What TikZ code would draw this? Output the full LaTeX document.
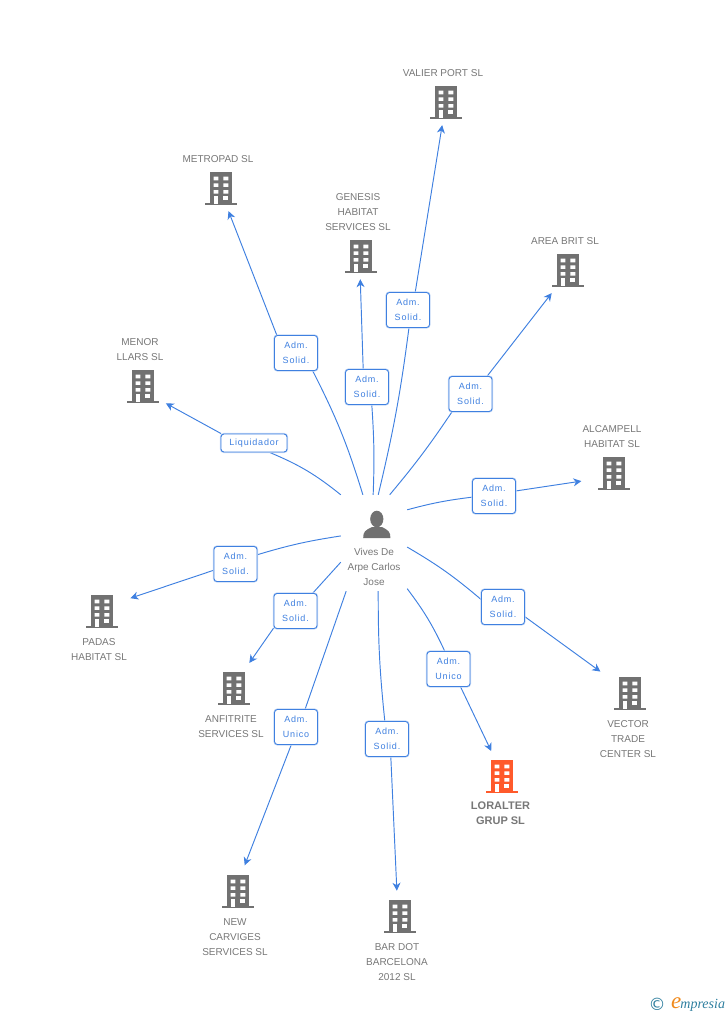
\documentclass[tikz,border=0pt]{standalone}
\usepackage{fontspec}
\setmainfont{Liberation Sans}
\newfontfamily\rolefont[LetterSpace=9]{Liberation Sans}
\newfontfamily\logofont[Ligatures=TeX]{Liberation Serif}
\newfontfamily\copyfont{DejaVu Sans}
\usetikzlibrary{arrows.meta,backgrounds,calc}
\definecolor{linkblue}{HTML}{3F80E0}
\definecolor{iconGrey}{HTML}{717171}
\definecolor{textGrey}{HTML}{777777}
\definecolor{ownOrange}{HTML}{FF5A2B}
\definecolor{logoTeal}{HTML}{2F7F9F}
\definecolor{logoOrange}{HTML}{F08A1C}
\tikzset{
	buildingbox/.style={inner sep=0pt, minimum width=32pt, minimum height=34pt, path picture={
		\begin{scope}[shift={(path picture bounding box.center)}]
			\fill[#1] (-11, -17) rectangle (11, 14.5);
			\fill[#1] (-16, 14.2) rectangle (16, 16.4);
			\foreach \rowy in {-12.3, -5.7, 1}
				\fill[white] (-7.3, \rowy) rectangle (-2.7, \rowy+3.6) (2.3, \rowy) rectangle (7.3, \rowy+3.6);
			\fill[white] (2.3, 7) rectangle (7.3, 10.6);
			\fill[white] (-7.3, 7) rectangle (-2.7, 14.5);
		\end{scope}
	}},
	companyname/.style={inner sep=0pt, yshift=-0.7pt, align=center, text=textGrey, font=\fontsize{10}{15}\selectfont},
	rolebox/.style={draw=linkblue, line width=0.9pt, rounded corners=3pt, fill=white, inner sep=0pt, minimum width=43pt, minimum height=35pt, align=center, text=linkblue, font=\rolefont\fontsize{9}{15}\selectfont, preaction={draw=linkblue!30, line width=2.2pt}},
	link/.style={draw=linkblue, line width=0.95pt},
	linkhead/.style={link, -{Stealth[length=8pt, width=8pt, inset=2.5pt]}}
}
\begin{document}
\begin{tikzpicture}[x=1pt, y=-1pt]
	\useasboundingbox (0, 0) rectangle (728, 1015);
	%%%%% PERSON %%%%%
	\node[inner sep=0pt, minimum width=66pt, minimum height=96pt] (vives) at (374, 543) {};
	\fill[iconGrey] (376.8, 519) ellipse (6.6 and 8.3);
	\fill[iconGrey] (363.2, 538) .. controls (363.2, 531.5) and (365, 530.5) .. (372, 527) -- (382, 527) .. controls (388.5, 530.5) and (390.4, 531.5) .. (390.4, 538) -- cycle;
	\node[companyname] (vivesname) at (374, 566.5) {Vives De\\Arpe Carlos\\Jose};
	%%%%% COMPANIES %%%%%
	\node[buildingbox=iconGrey] (valier) at (446, 103) {};
	\node[companyname] (valiername) at (443, 72) {VALIER PORT SL};
	\node[buildingbox=iconGrey] (metropad) at (221, 189) {};
	\node[companyname] (metropadname) at (218, 158) {METROPAD SL};
	\node[buildingbox=iconGrey] (genesis) at (361, 257) {};
	\node[companyname] (genesisname) at (358, 211) {GENESIS\\HABITAT\\SERVICES SL};
	\node[buildingbox=iconGrey] (area) at (568, 271) {};
	\node[companyname] (areaname) at (565, 240) {AREA BRIT SL};
	\node[buildingbox=iconGrey] (alcampell) at (614, 474) {};
	\node[companyname] (alcampellname) at (612, 435.5) {ALCAMPELL\\HABITAT SL};
	\node[buildingbox=iconGrey] (menor) at (143, 387) {};
	\node[companyname] (menorname) at (140, 348.5) {MENOR\\LLARS SL};
	\node[buildingbox=iconGrey] (padas) at (102, 612) {};
	\node[companyname] (padasname) at (99, 648.5) {PADAS\\HABITAT SL};
	\node[buildingbox=iconGrey] (anfitrite) at (234, 689) {};
	\node[companyname] (anfitritename) at (231, 725.5) {ANFITRITE\\SERVICES SL};
	\node[buildingbox=iconGrey] (carviges) at (238, 892) {};
	\node[companyname] (carvigesname) at (235, 936) {NEW\\CARVIGES\\SERVICES SL};
	\node[buildingbox=iconGrey] (bardot) at (400, 917) {};
	\node[companyname] (bardotname) at (397, 961) {BAR DOT\\BARCELONA\\2012 SL};
	\node[buildingbox=iconGrey] (vector) at (630, 694) {};
	\node[companyname] (vectorname) at (628, 738) {VECTOR\\TRADE\\CENTER SL};
	\node[buildingbox=ownOrange] (loralter) at (502, 777) {};
	\node[companyname, font=\bfseries\fontsize{11}{15}\selectfont] (loraltername) at (500.5, 813) {LORALTER\\GRUP SL};
	%%%%% ROLES %%%%%
	\node[rolebox] (rolemetropad) at (296, 353) {Adm.\\Solid.};
	\node[rolebox] (rolegenesis) at (367, 387) {Adm.\\Solid.};
	\node[rolebox] (rolevalier) at (408, 310) {Adm.\\Solid.};
	\node[rolebox] (rolearea) at (470.5, 394) {Adm.\\Solid.};
	\node[rolebox] (rolealcampell) at (494, 496) {Adm.\\Solid.};
	\node[rolebox] (rolevector) at (503, 607) {Adm.\\Solid.};
	\node[rolebox] (roleloralter) at (448.5, 669) {Adm.\\Unico};
	\node[rolebox] (rolebardot) at (387, 739) {Adm.\\Solid.};
	\node[rolebox] (rolecarviges) at (296, 727) {Adm.\\Unico};
	\node[rolebox] (roleanfitrite) at (295.5, 611) {Adm.\\Solid.};
	\node[rolebox] (rolepadas) at (235.5, 564) {Adm.\\Solid.};
	\node[rolebox, minimum width=66pt, minimum height=18pt] (rolemenor) at (254, 443) {Liquidador};
	%%%%% LINKS %%%%%
	\begin{scope}[on background layer]
		\draw[link] (vives.north west) to[bend right=8] (rolemenor.-31);
		\draw[linkhead, shorten >=7.6pt] (rolemenor.164) -- (menor.-38);
		\draw[link] (vives.103) to[bend right=5] (rolemetropad.-47);
		\draw[linkhead, shorten >=5.3pt] (rolemetropad.137) -- (metropad.-72);
		\draw[link] (vives.91) to[bend right=3] (rolegenesis.-75);
		\draw[linkhead, shorten >=5pt] (rolegenesis.102) -- (genesis.-93);
		\draw[link] (vives.85) to[bend right=3] (rolevalier.-87);
		\draw[linkhead, shorten >=5pt] (rolevalier.68) -- (valier.-100);
		\draw[link] (vives.72) to[bend right=3] (rolearea.224);
		\draw[linkhead, shorten >=6.2pt] (rolearea.47) -- (area.-126);
		\draw[link] (vives.45) to[bend left=4] (rolealcampell.183);
		\draw[linkhead, shorten >=16.6pt] (rolealcampell.13) -- (alcampell.196);
		\draw[link] (vives.-7) to[bend left=5] (rolevector.161);
		\draw[linkhead, shorten >=16.6pt] (rolevector.-24) -- (vector.142);
		\draw[link] (vives.-54) to[bend left=6] (roleloralter.102);
		\draw[linkhead, shorten >=9.7pt] (roleloralter.-56) -- (loralter.111);
		\draw[link] (vives.-85) to[bend right=3] (rolebardot.97);
		\draw[linkhead, shorten >=9.1pt] (rolebardot.-78) -- (bardot.99);
		\draw[link] (vives.-120) -- (rolecarviges.63);
		\draw[linkhead, shorten >=10.2pt] (rolecarviges.-105) -- (carviges.80);
		\draw[link] (vives.210) -- (roleanfitrite.46);
		\draw[linkhead, shorten >=10.8pt] (roleanfitrite.218) -- (anfitrite.62);
		\draw[link] (vives.168) to[bend right=4] (rolepadas.23);
		\draw[linkhead, shorten >=12.8pt] (rolepadas.196) -- (padas.31);
	\end{scope}
	%%%%% LOGO %%%%%
	\node[inner sep=0pt, text=logoTeal, font=\copyfont\fontsize{17}{17}\selectfont] (logomark) at (657, 1004) {©};
	\node[inner sep=0pt, anchor=base west, text=logoTeal, font=\logofont\itshape\fontsize{14}{14}\selectfont] (logoname) at (671, 1008) {{\color{logoOrange}\fontsize{23}{23}\selectfont e}\hspace{-1pt}mpresia};
\end{tikzpicture}
\end{document}
